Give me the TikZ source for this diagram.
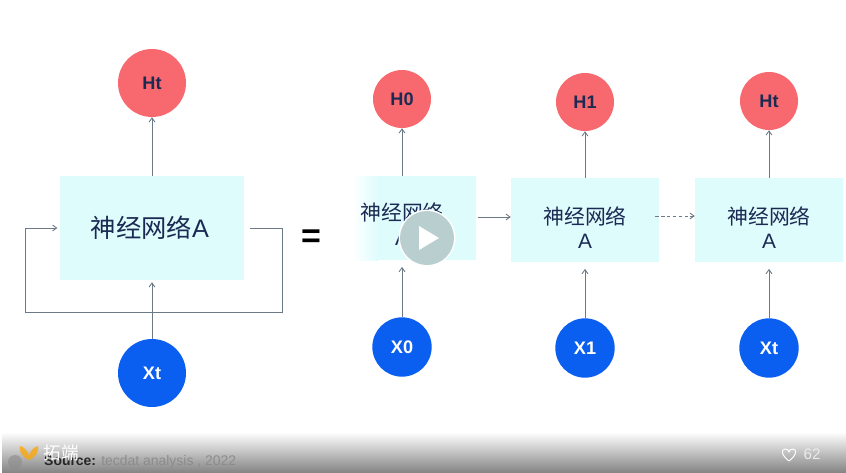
\documentclass[tikz,border=0pt]{standalone}
\usepackage{fontspec}
\setmainfont{Liberation Sans}
\newfontfamily\cjk{Noto Sans CJK SC}
\usetikzlibrary{arrows.meta, calc, positioning}
\definecolor{netfill}{HTML}{DFFCFD}
\definecolor{netink}{HTML}{1B2A52}
\definecolor{hiddenred}{HTML}{F8696F}
\definecolor{inputblue}{HTML}{0A5FF0}
\definecolor{linkgray}{HTML}{6B7A86}
\definecolor{barend}{HTML}{868686}
\definecolor{playgray}{HTML}{B9CFCF}
\tikzset{
	netbox/.style={fill=netfill, inner sep=0pt},
	netlabel/.style={inner sep=0pt, text=netink, align=center, font=\cjk\fontsize{17.8}{22}\selectfont},
	hiddennode/.style={circle, fill=hiddenred, inner sep=0pt, minimum size=1.74cm, font=\bfseries\fontsize{15.5}{17}\selectfont, text=netink},
	inputnode/.style={circle, fill=inputblue, inner sep=0pt, minimum size=1.78cm, font=\bfseries\fontsize{15.5}{17}\selectfont, text=white},
	link/.style={draw=linkgray, line width=0.75pt, -{Straight Barb[length=3.5pt,width=5pt]}},
}
\begin{document}
\begin{tikzpicture}[x=0.03cm, y=-0.03cm]
	\useasboundingbox (0,0) rectangle (846,472);
	\fill[white] (0,0) rectangle (846,472);

	% Folded network on the left
	\node[netbox, minimum width=5.52cm, minimum height=3.12cm] (netA) at (152,228) {};
	\node[netlabel, font=\cjk\fontsize{21.6}{23}\selectfont] (labA) at (150,228) {神经网络\fontspec{Liberation Sans}A};
	\node[hiddennode, minimum size=2.04cm] (hA) at (152,83) {Ht};
	\node[inputnode, minimum size=2.04cm] (xA) at (152,373) {Xt};
	\draw[link] (netA.north) -- (hA);
	\draw[link] (xA) -- ($(netA.south)+(0,2)$);
	\draw[link, shorten >=2pt] ($(netA.east)+(6,0)$) -- ++(32,0) -- ++(0,84) -- ++(-257,0) -- ++(0,-84) -- (netA.west);

	\node[font=\bfseries\fontsize{29}{31}\selectfont, text=black] (eqsign) at (311,239) {=};

	% Faded left edge of the first unrolled box
	\fill[netfill] (378,176) rectangle (476,260);
	\shade[left color=white, right color=netfill] (352,176) rectangle (378,260);

	% Unrolled network
	\foreach \i/\x/\yn/\yt/\boxfill in {0/402/218/224/none, 1/585/220/227.5/netfill, 2/769/220/227.5/netfill} {
		\node[netbox, fill=\boxfill, minimum width=4.44cm, minimum height=2.5cm] (net\i) at (\x,\yn) {};
		\node[netlabel] (lab\i) at (\x,\yt) {神经网络\\[-1pt]\fontspec{Liberation Sans}A};
	}
	\foreach \i/\lab/\x/\yh in {0/H0/402/99, 1/H1/585/102, 2/Ht/769/101} {
		\node[hiddennode] (h\i) at (\x,\yh) {\raisebox{-3pt}{\lab}};
		\draw[link] (net\i.north) -- (h\i);
	}
	\foreach \i/\lab/\x/\yx in {0/X0/402/347, 1/X1/585/348, 2/Xt/769/348} {
		\node[inputnode] (x\i) at (\x,\yx) {\raisebox{-3pt}{\lab}};
		\draw[link] (x\i) -- ($(net\i.south)+(0,7)$);
	}
	\draw[link] ($(net0.east)+(2,-1)$) -- ($(net1.west)+(0,-3)$);
	\draw[link, dash pattern=on 3pt off 2pt] ($(net1.east)+(-4,-4)$) -- ($(net2.west)+(0,-4)$);

	% Play button
	\fill[white] (427,238) circle (28.5);
	\fill[playgray] (427,238) circle (27);
	\fill[white] (419,226) -- (439,238) -- (419,250) -- cycle;

	% Bottom bar
	\shade[top color=white, bottom color=barend] (2,432) rectangle (846,472);
	\fill[black!45, opacity=0.6] (15,462) circle (7);
	\fill[orange!70!yellow, opacity=0.75] (29,460) .. controls (24,458) and (18,452) .. (20,446) .. controls (24,447) and (28,451) .. (29,456) .. controls (30,451) and (34,447) .. (38,446) .. controls (40,452) and (34,458) .. (29,460) -- cycle;
	\node[anchor=base west, inner sep=0pt, font=\fontsize{11.9}{14}\selectfont, text=black!45] (source) at (44,465) {\textcolor{black!85}{\bfseries Source:} tecdat analysis , 2022};
	\node[text=white, font=\cjk\fontsize{15}{17}\selectfont] (brand) at (61,453) {拓端};
	\draw[white, line width=0.8pt, line join=round] (789,461) .. controls (781,455) and (781,449) .. (785,449) .. controls (787,449) and (789,450) .. (789,452) .. controls (789,450) and (791,449) .. (793,449) .. controls (797,449) and (797,455) .. (789,461) -- cycle;
	\node[text=white!92!black, font=\fontsize{13}{15}\selectfont] (likes) at (812,454) {62};
\end{tikzpicture}
\end{document}
